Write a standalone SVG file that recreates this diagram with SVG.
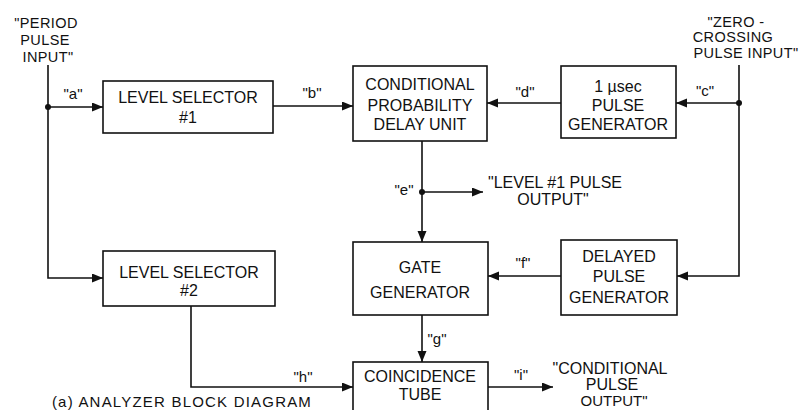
<svg xmlns="http://www.w3.org/2000/svg" width="805" height="410" viewBox="0 0 805 410">
<style>
  .box { fill: #fff; stroke: #111; stroke-width: 1.6; }
  .t { font-family: "Liberation Sans", Arial, sans-serif; font-size: 16px; fill: #111; text-anchor: middle; }
  .in { font-family: "Liberation Sans", Arial, sans-serif; font-size: 14.5px; letter-spacing: 0.4px; fill: #111; text-anchor: middle; }
  .lbl { font-family: "Liberation Sans", Arial, sans-serif; font-size: 15px; fill: #111; text-anchor: middle; }
  .ln { fill: none; stroke: #111; stroke-width: 1.6; }
  .arr { marker-end: url(#ah); }
  .dot { fill: #111; }
</style>
<defs>
  <marker id="ah" markerUnits="userSpaceOnUse" markerWidth="12" markerHeight="10" refX="11" refY="4.5" orient="auto">
    <path d="M0,0 L11,4.5 L0,9 z" fill="#111"/>
  </marker>
</defs>
<rect width="805" height="410" fill="#fff"/>

<g id="connectors">
  <path class="ln arr" d="M48,65 V278 H103"/>
  <path class="ln arr" d="M48,107 H103"/>
  <circle class="dot" cx="48" cy="107" r="3"/>
  <path class="ln arr" d="M273,106 H353"/>
  <path class="ln arr" d="M561,103 H487"/>
  <path class="ln arr" d="M739,65 V276 H677"/>
  <path class="ln arr" d="M739,103 H676"/>
  <circle class="dot" cx="739" cy="103" r="3"/>
  <path class="ln arr" d="M422,141 V242"/>
  <path class="ln arr" d="M422,192 H483"/>
  <circle class="dot" cx="422" cy="192" r="3"/>
  <path class="ln arr" d="M561,276 H488"/>
  <path class="ln arr" d="M422,315 V362"/>
  <path class="ln arr" d="M191,306 V387 H353"/>
  <path class="ln arr" d="M488,387 H553"/>
  <text class="lbl" x="73" y="99">"a"</text>
  <text class="lbl" x="312" y="98">"b"</text>
  <text class="lbl" x="705" y="96">"c"</text>
  <text class="lbl" x="525" y="97">"d"</text>
  <text class="lbl" x="404" y="195">"e"</text>
  <text class="lbl" x="523" y="268">"f"</text>
  <text class="lbl" x="437" y="344">"g"</text>
  <text class="lbl" x="303" y="382">"h"</text>
  <text class="lbl" x="521" y="380">"i"</text>
</g>

<g id="period-input">
  <text class="in" x="46" y="28">"PERIOD</text>
  <text class="in" x="45" y="45">PULSE</text>
  <text class="in" x="48" y="62">INPUT"</text>
</g>
<g id="zero-crossing-input">
  <text class="in" x="736" y="27">"ZERO -</text>
  <text class="in" x="733" y="42">CROSSING</text>
  <text class="in" x="746" y="58">PULSE INPUT"</text>
</g>

<g id="level-selector-1">
  <rect class="box" x="103" y="81" width="170" height="52"/>
  <text class="t" x="188" y="103">LEVEL SELECTOR</text>
  <text class="t" x="188" y="123">#1</text>
</g>
<g id="cpdu">
  <rect class="box" x="353" y="66" width="134" height="75"/>
  <text class="t" x="420" y="90">CONDITIONAL</text>
  <text class="t" x="420" y="111">PROBABILITY</text>
  <text class="t" x="420" y="130">DELAY UNIT</text>
</g>
<g id="pulse-generator-1us">
  <rect class="box" x="561" y="66" width="115" height="72"/>
  <text class="t" x="618" y="92">1 µsec</text>
  <text class="t" x="618" y="111">PULSE</text>
  <text class="t" x="618" y="130">GENERATOR</text>
</g>
<g id="level1-output">
  <text class="t" x="555" y="188">"LEVEL #1 PULSE</text>
  <text class="t" x="553" y="205">OUTPUT"</text>
</g>
<g id="level-selector-2">
  <rect class="box" x="103" y="251" width="172" height="55"/>
  <text class="t" x="189" y="278">LEVEL SELECTOR</text>
  <text class="t" x="189" y="296">#2</text>
</g>
<g id="gate-generator">
  <rect class="box" x="353" y="242" width="135" height="73"/>
  <text class="t" x="420" y="273">GATE</text>
  <text class="t" x="420" y="298">GENERATOR</text>
</g>
<g id="delayed-pulse-generator">
  <rect class="box" x="561" y="240" width="116" height="75"/>
  <text class="t" x="619" y="262">DELAYED</text>
  <text class="t" x="619" y="282">PULSE</text>
  <text class="t" x="619" y="303">GENERATOR</text>
</g>
<g id="coincidence-tube">
  <rect class="box" x="353" y="362" width="135" height="60"/>
  <text class="t" x="420" y="382">COINCIDENCE</text>
  <text class="t" x="420" y="400">TUBE</text>
</g>
<g id="conditional-output">
  <text class="t" x="610" y="374">"CONDITIONAL</text>
  <text class="t" x="612" y="390">PULSE</text>
  <text class="t" x="614" y="406" style="font-size:15px">OUTPUT"</text>
</g>
<text class="t" x="182" y="407" style="font-size:15px; letter-spacing:1.2px">(a) ANALYZER BLOCK DIAGRAM</text>
</svg>
